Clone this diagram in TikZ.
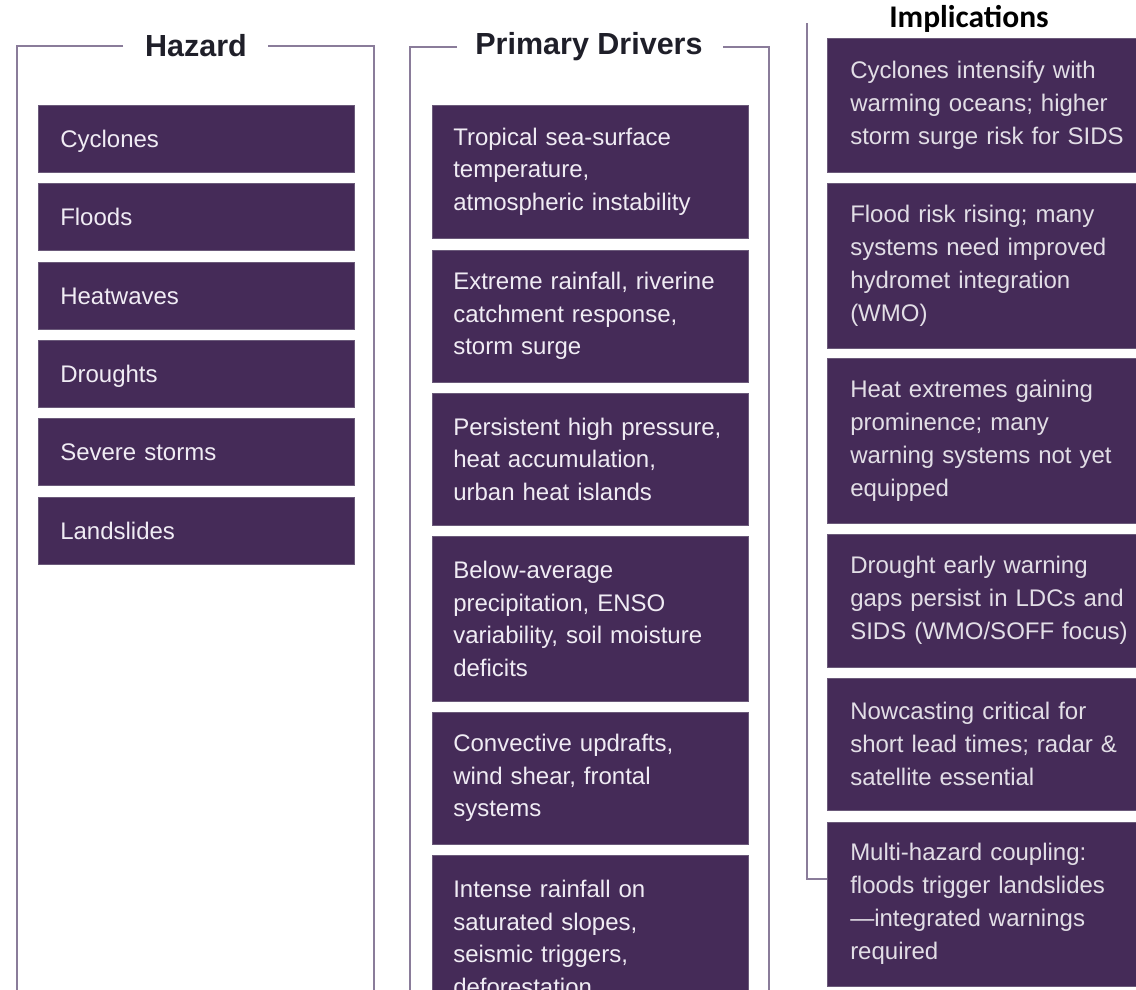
\documentclass[tikz,border=0pt]{standalone}
\usepackage{fontspec}
\setmainfont{Liberation Sans}
\newfontfamily\titlefont{Carlito}
\definecolor{boxfill}{HTML}{452B58}
\definecolor{boxedge}{HTML}{6B5A7A}
\definecolor{boxtext}{HTML}{F0ECF4}
\definecolor{imptext}{HTML}{E2DEE6}
\definecolor{framecol}{HTML}{8A7C9A}
\definecolor{titlecol}{HTML}{1F1F29}
\tikzset{
  framel/.style={draw=framecol, line width=1.4pt},
  coltitle/.style={text=titlecol, font=\bfseries\fontsize{30.5}{30.5}\selectfont, anchor=center},
  hazbox/.style={fill=boxfill, draw=boxedge, line width=0.5pt, anchor=north west,
    text=boxtext, font=\fontsize{24}{32.5}\selectfont, inner xsep=22pt, inner ysep=0pt,
    text width=272pt, minimum height=67pt, text height=17.2pt, text depth=0pt},
  drvbox/.style={fill=boxfill, draw=boxedge, line width=0.5pt, anchor=north west,
    text=boxtext, font=\fontsize{24}{32.5}\selectfont, align=left, inner xsep=21pt, inner ysep=0pt,
    text width=274pt, minimum height=#1},
  impbox/.style={fill=boxfill, draw=boxedge, line width=0.5pt, anchor=north west,
    text=imptext, font=\fontsize{24}{33}\selectfont, align=left, inner xsep=23pt, inner ysep=0pt,
    text width=300pt, minimum height=#1}
}
\begin{document}
\begin{tikzpicture}[x=1pt,y=-1pt]
\useasboundingbox (0,0) rectangle (1136,989);
\clip (0,0) rectangle (1136,989);
\fill[white] (0,0) rectangle (1136,989);

% ---- Hazard column frame
\draw[framel] (123,46) -- (17,46) -- (17,1000);
\draw[framel] (268,46) -- (374,46) -- (374,1000);
\node[coltitle] (hazT) at (196,46) {Hazard};

\node[hazbox] (h1) at (38,105) {Cyclones};
\node[hazbox] (h2) at (38,183) {Floods};
\node[hazbox] (h3) at (38,262) {Heatwaves};
\node[hazbox] (h4) at (38,340) {Droughts};
\node[hazbox] (h5) at (38,418) {Severe storms};
\node[hazbox] (h6) at (38,497) {Landslides};

% ---- Primary drivers column frame
\draw[framel] (457,47) -- (410,47) -- (410,1000);
\draw[framel] (723,47) -- (769,47) -- (769,1000);
\node[coltitle] (drvT) at (589,47) {Primary Drivers};

\node[drvbox=133pt] (d1) at (432,105) {Tropical sea-surface\\temperature,\\atmospheric instability};
\node[drvbox=132pt] (d2) at (432,250) {Extreme rainfall, riverine\\catchment response,\\storm surge};
\node[drvbox=132pt] (d3) at (432,393) {Persistent high pressure,\\heat accumulation,\\urban heat islands};
\node[drvbox=165pt] (d4) at (432,536) {Below-average\\precipitation, ENSO\\variability, soil moisture\\deficits};
\node[drvbox=132pt] (d5) at (432,712) {Convective updrafts,\\wind shear, frontal\\systems};
\node[drvbox=165pt] (d6) at (432,855) {Intense rainfall on\\saturated slopes,\\seismic triggers,\\deforestation};

% ---- Implications column
\draw[framel] (807,23) -- (807,879) -- (827,879);
\node[anchor=base, text=black, font=\titlefont\bfseries\fontsize{31.5}{31.5}\selectfont] (impT) at (969,27) {Implications};

\node[impbox=134pt] (i1) at (827,38) {Cyclones intensify with\\warming oceans; higher\\storm surge risk for SIDS};
\node[impbox=165pt] (i2) at (827,183) {Flood risk rising; many\\systems need improved\\hydromet integration\\(WMO)};
\node[impbox=165pt] (i3) at (827,358) {Heat extremes gaining\\prominence; many\\warning systems not yet\\equipped};
\node[impbox=133pt] (i4) at (827,534) {Drought early warning\\gaps persist in LDCs and\\SIDS (WMO/SOFF focus)};
\node[impbox=132pt] (i5) at (827,678) {Nowcasting critical for\\short lead times; radar \&\\satellite essential};
\node[impbox=164pt] (i6) at (827,822) {Multi-hazard coupling:\\floods trigger landslides\\—integrated warnings\\required};
\end{tikzpicture}
\end{document}
